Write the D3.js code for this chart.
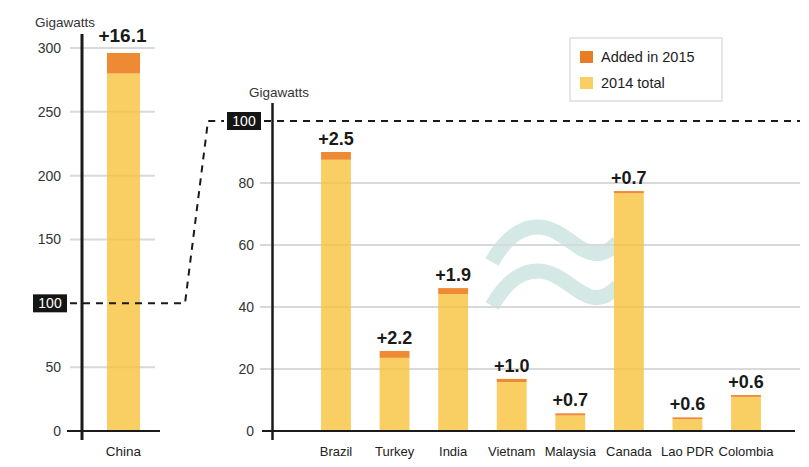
<!DOCTYPE html>
<html><head><meta charset="utf-8">
<script src="https://cdn.jsdelivr.net/npm/d3@7"></script>
<style>
body{margin:0;background:#fff;}
text{font-family:"Liberation Sans",Arial,sans-serif;}
</style></head>
<body><svg id="c" width="809" height="467"></svg>
<script>
const leftCats = ["China"];
const leftBase = [280.0];
const leftAdded = [16.1];
const rightCats = ["Brazil","Turkey","India","Vietnam","Malaysia","Canada","Lao PDR","Colombia"];
const rightBase = [87.5,23.6,44.2,15.8,5.0,76.7,3.8,11.0];
const rightAdded = [2.5,2.2,1.9,1.0,0.7,0.7,0.6,0.6];
const leftTicks = [0,50,150,200,250,300];
const rightTicks = [0,20,40,60,80];
const legendItems = ["Added in 2015","2014 total"];

const ORANGE="#EE8A34", YELLOW="#F9CF63", GRID="#e2e2e2", INK="#1a1a1a", TEAL="#D4E9E6";
const svg=d3.select("#c");

// scales
const yL=d3.scaleLinear().domain([0,300]).range([431,48]);
const yR=d3.scaleLinear().domain([0,100]).range([431,121]);
const xL=d3.scaleBand().domain(leftCats).range([107,140]).padding(0);
const xR=d3.scaleBand().domain(rightCats).range([306.7,775.3]).paddingInner(0.49).paddingOuter(0.245);

// approx symbol (behind)
const wave=(dy)=>`M492,${262+dy} C510,${230+dy} 533,${220+dy} 556,${232+dy} S594,${268+dy} 618,${242+dy}`;
[0,44].forEach(dy=>svg.append("path").attr("d",wave(dy)).attr("fill","none")
  .attr("stroke",TEAL).attr("stroke-width",15));

// gridlines
svg.append("g").selectAll("line").data(leftTicks.filter(d=>d>0)).join("line")
  .attr("x1",70).attr("x2",155).attr("y1",d=>yL(d)).attr("y2",d=>yL(d))
  .attr("stroke",GRID).attr("stroke-width",2);
svg.append("g").selectAll("line").data(rightTicks.filter(d=>d>0)).join("line")
  .attr("x1",260).attr("x2",800).attr("y1",d=>yR(d)).attr("y2",d=>yR(d))
  .attr("stroke",GRID).attr("stroke-width",2);

// bars
function bars(x,y,cats,base,added){
  const g=svg.append("g");
  cats.forEach((c,i)=>{
    g.append("rect").attr("x",x(c)).attr("width",x.bandwidth())
      .attr("y",y(base[i])).attr("height",y(0)-y(base[i])).attr("fill",YELLOW);
    g.append("rect").attr("x",x(c)).attr("width",x.bandwidth())
      .attr("y",y(base[i]+added[i])).attr("height",y(base[i])-y(base[i]+added[i])).attr("fill",ORANGE);
  });
}
bars(xL,yL,leftCats,leftBase,leftAdded);
bars(xR,yR,rightCats,rightBase,rightAdded);

// gridlines over bars (subtle)
svg.append("g").selectAll("line").data(rightTicks.filter(d=>d>0)).join("line")
  .attr("x1",260).attr("x2",800).attr("y1",d=>yR(d)).attr("y2",d=>yR(d))
  .attr("stroke","#000").attr("stroke-opacity",0.04).attr("stroke-width",2);
svg.append("g").selectAll("line").data(leftTicks.filter(d=>d>0)).join("line")
  .attr("x1",70).attr("x2",155).attr("y1",d=>yL(d)).attr("y2",d=>yL(d))
  .attr("stroke","#000").attr("stroke-opacity",0.04).attr("stroke-width",2);

// value labels
svg.append("text").attr("x",xL("China")+xL.bandwidth()/2-1).attr("y",yL(leftBase[0]+leftAdded[0])-11)
  .attr("text-anchor","middle").attr("font-size",19).attr("font-weight","bold").attr("fill",INK)
  .text("+"+leftAdded[0].toFixed(1));
svg.append("g").selectAll("text").data(rightCats).join("text")
  .attr("x",d=>xR(d)+xR.bandwidth()/2).attr("y",(d,i)=>yR(rightBase[i]+rightAdded[i])-7)
  .attr("text-anchor","middle").attr("font-size",18).attr("font-weight","bold").attr("fill",INK)
  .text((d,i)=>"+"+rightAdded[i].toFixed(1));

// axes
const axL=svg.append("g").attr("transform","translate(82,0)")
  .call(d3.axisLeft(yL).tickValues(leftTicks).tickSize(0).tickPadding(21));
axL.select(".domain").remove();
axL.selectAll("text").attr("font-size",14).attr("fill","#333").attr("font-family","Liberation Sans, Arial, sans-serif");
const axR=svg.append("g").attr("transform","translate(272,0)")
  .call(d3.axisLeft(yR).tickValues(rightTicks).tickSize(0).tickPadding(18));
axR.select(".domain").remove();
axR.selectAll("text").attr("font-size",14).attr("fill","#333").attr("font-family","Liberation Sans, Arial, sans-serif");

// axis lines
svg.append("line").attr("x1",82).attr("x2",82).attr("y1",34).attr("y2",440).attr("stroke",INK).attr("stroke-width",3);
svg.append("line").attr("x1",67).attr("x2",160).attr("y1",yL(0)).attr("y2",yL(0)).attr("stroke",INK).attr("stroke-width",2);
svg.append("line").attr("x1",272.5).attr("x2",272.5).attr("y1",103).attr("y2",440).attr("stroke",INK).attr("stroke-width",2.5);
svg.append("line").attr("x1",262).attr("x2",795).attr("y1",yR(0)).attr("y2",yR(0)).attr("stroke",INK).attr("stroke-width",2);

// category labels
svg.append("text").attr("x",xL("China")+xL.bandwidth()/2).attr("y",456).attr("text-anchor","middle")
  .attr("font-size",13.5).attr("fill","#222").text("China");
svg.append("g").selectAll("text").data(rightCats).join("text")
  .attr("x",d=>xR(d)+xR.bandwidth()/2).attr("y",456).attr("text-anchor","middle")
  .attr("font-size",13).attr("fill","#222").text(d=>d);

// unit labels
svg.append("text").attr("x",35).attr("y",27).attr("font-size",13.5).attr("fill","#333").text("Gigawatts");
svg.append("text").attr("x",249).attr("y",97).attr("font-size",13.5).attr("fill","#333").text("Gigawatts");

// dashed connector
svg.append("path").attr("d",`M70,${yL(100)} H185 L208,${yR(100)} H224`)
  .attr("fill","none").attr("stroke",INK).attr("stroke-width",2).attr("stroke-dasharray","7,6");
svg.append("line").attr("x1",264).attr("x2",800).attr("y1",yR(100)).attr("y2",yR(100))
  .attr("stroke",INK).attr("stroke-width",2).attr("stroke-dasharray","7,6");

// 100 boxes
function box(x,y){
  svg.append("rect").attr("x",x).attr("y",y-9).attr("width",34).attr("height",18).attr("fill","#151515");
  svg.append("text").attr("x",x+17).attr("y",y+5).attr("text-anchor","middle").attr("font-size",14)
    .attr("fill","#fff").text("100");
}
box(33,yL(100));
box(227,yR(100));

// legend
svg.append("rect").attr("x",570).attr("y",38).attr("width",152).attr("height",63)
  .attr("fill","#fff").attr("stroke","#e6e6e6").attr("stroke-width",2);
const lg=svg.append("g").selectAll("g").data(legendItems).join("g")
  .attr("transform",(d,i)=>`translate(580,${51+i*26})`);
lg.append("rect").attr("width",13).attr("height",12).attr("fill",(d,i)=>i===0?"#E87D24":YELLOW);
lg.append("text").attr("x",21).attr("y",11).attr("font-size",14.5).attr("fill","#222").text(d=>d);
</script></body></html>
